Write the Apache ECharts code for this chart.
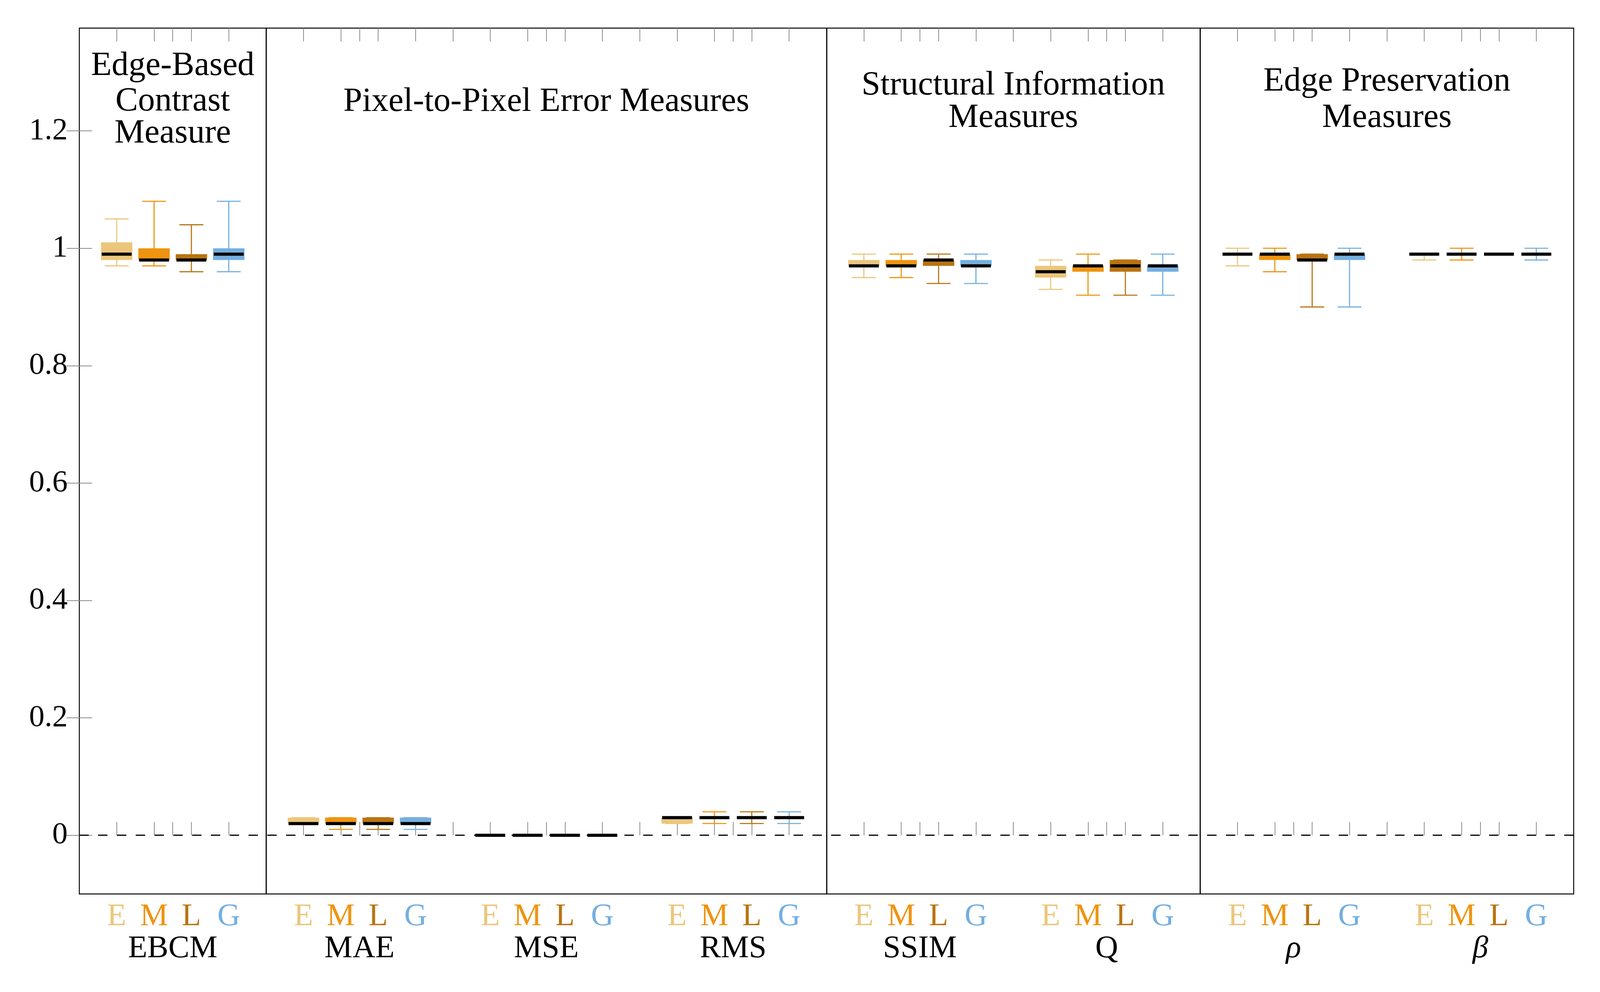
<!DOCTYPE html>
<html>
<head>
<meta charset="utf-8">
<script src="https://cdn.jsdelivr.net/npm/echarts@6/dist/echarts.min.js"></script>
<style>
html,body{margin:0;padding:0;background:#fff;overflow:hidden;}
#chart{width:100vw;height:100vh;}
</style>
</head>
<body>
<div id="chart"></div>
<script>
// ---------------- data ----------------
const categories = ['EBCM', 'MAE', 'MSE', 'RMS', 'SSIM', 'Q', 'ρ', 'β'];
const methods = ['E', 'M', 'L', 'G'];
const panelTitles = [
  ['Edge-Based', 'Contrast', 'Measure'],
  ['Pixel-to-Pixel Error Measures'],
  ['Structural Information', 'Measures'],
  ['Edge Preservation', 'Measures']
];
const panelBounds = [0, 5, 20, 30, 40]; // panel edges in group-slot units
const yTickValues = [0, 0.2, 0.4, 0.6, 0.8, 1, 1.2];

// each row: [min, q1, median, q3, max] per category
const E = [
  [0.97, 0.98, 0.99, 1.01, 1.05],
  [0.02, 0.02, 0.02, 0.03, 0.03],
  [0, 0, 0, 0, 0],
  [0.02, 0.02, 0.03, 0.03, 0.03],
  [0.95, 0.97, 0.97, 0.98, 0.99],
  [0.93, 0.95, 0.96, 0.97, 0.98],
  [0.97, 0.99, 0.99, 0.99, 1.00],
  [0.98, 0.99, 0.99, 0.99, 0.99]
];
const M = [
  [0.97, 0.98, 0.98, 1.00, 1.08],
  [0.01, 0.02, 0.02, 0.03, 0.03],
  [0, 0, 0, 0, 0],
  [0.02, 0.03, 0.03, 0.03, 0.04],
  [0.95, 0.97, 0.97, 0.98, 0.99],
  [0.92, 0.96, 0.97, 0.97, 0.99],
  [0.96, 0.98, 0.99, 0.99, 1.00],
  [0.98, 0.99, 0.99, 0.99, 1.00]
];
const L = [
  [0.96, 0.98, 0.98, 0.99, 1.04],
  [0.01, 0.02, 0.02, 0.03, 0.03],
  [0, 0, 0, 0, 0],
  [0.02, 0.03, 0.03, 0.03, 0.04],
  [0.94, 0.97, 0.98, 0.98, 0.99],
  [0.92, 0.96, 0.97, 0.98, 0.98],
  [0.90, 0.98, 0.98, 0.99, 0.99],
  [0.99, 0.99, 0.99, 0.99, 0.99]
];
const G = [
  [0.96, 0.98, 0.99, 1.00, 1.08],
  [0.01, 0.02, 0.02, 0.03, 0.03],
  [0, 0, 0, 0, 0],
  [0.02, 0.03, 0.03, 0.03, 0.04],
  [0.94, 0.97, 0.97, 0.98, 0.99],
  [0.92, 0.96, 0.97, 0.97, 0.99],
  [0.90, 0.98, 0.99, 0.99, 1.00],
  [0.98, 0.99, 0.99, 0.99, 1.00]
];
const seriesData = [E, M, L, G];

// ---------------- styles ----------------
const methodColors = ['#EBC67C', '#EF9410', '#B97412', '#74AFE0'];
const SERIF = '"Liberation Serif", "DejaVu Serif", serif';
const tickGray = '#8a8a8a';

const el = document.getElementById('chart');
const sx = (el.clientWidth || 4256) / 4256;  // horizontal design-px scale
const sy = (el.clientHeight || 2540) / 2540; // vertical design-px scale
const SX = v => v * sx;
const SY = v => v * sy;
const FS = SX(84);
const TFS = SX(90);

// slot positions: group g, method k -> 5g + k + 1 ; group centre -> 5g + 2.5
const boxPositions = [];
const groupCenters = [];
categories.forEach((c, g) => {
  methods.forEach((m, k) => boxPositions.push(5 * g + k + 1));
  groupCenters.push(5 * g + 2.5);
});
const tickPositions = [];
for (let i = 1; i < 40; i++) tickPositions.push(i);
groupCenters.forEach(v => tickPositions.push(v));
tickPositions.sort((a, b) => a - b);

function renderBox(params, api) {
  const x = api.value(0);
  const mn = api.value(1), q1 = api.value(2), md = api.value(3), q3 = api.value(4), mx = api.value(5);
  const color = api.visual('color');
  const cx = api.coord([x, md])[0];
  const yMin = api.coord([x, mn])[1];
  const yQ1 = api.coord([x, q1])[1];
  const yMd = api.coord([x, md])[1];
  const yQ3 = api.coord([x, q3])[1];
  const yMax = api.coord([x, mx])[1];
  const boxW = api.size([0.84, 0])[0];
  const capW = api.size([0.64, 0])[0];
  const medW = api.size([0.80, 0])[0];
  const ls = { stroke: color, lineWidth: SX(3) };
  const mh = SY(8);
  return {
    type: 'group',
    children: [
      { type: 'line', shape: { x1: cx, y1: yQ1, x2: cx, y2: yMin }, style: ls },
      { type: 'line', shape: { x1: cx, y1: yQ3, x2: cx, y2: yMax }, style: ls },
      { type: 'line', shape: { x1: cx - capW / 2, y1: yMin, x2: cx + capW / 2, y2: yMin }, style: ls },
      { type: 'line', shape: { x1: cx - capW / 2, y1: yMax, x2: cx + capW / 2, y2: yMax }, style: ls },
      { type: 'rect', shape: { x: cx - boxW / 2, y: yQ3, width: boxW, height: Math.max(0, yQ1 - yQ3) }, style: { fill: color } },
      { type: 'rect', shape: { x: cx - medW / 2, y: yMd - mh / 2, width: medW, height: mh }, style: { fill: '#000' } }
    ]
  };
}

const chart = echarts.init(el, null, { renderer: 'canvas' });

const series = methods.map((m, k) => ({
  name: m,
  type: 'custom',
  xAxisIndex: 0,
  yAxisIndex: 0,
  itemStyle: { color: methodColors[k] },
  renderItem: renderBox,
  encode: { x: 0, y: [1, 2, 3, 4, 5] },
  data: seriesData[k].map((row, g) => [5 * g + k + 1].concat(row)),
  z: 5,
  silent: true
}));

// decoration lines (zero line and panel separators)
series.push({
  type: 'line',
  data: [],
  xAxisIndex: 0,
  yAxisIndex: 0,
  silent: true,
  z: 3,
  markLine: {
    silent: true,
    symbol: 'none',
    label: { show: false },
    animation: false,
    data: [
      { yAxis: 0, lineStyle: { color: '#000', width: SY(3), type: [SX(25), SX(25)] } }
    ].concat(panelBounds.slice(1, -1).map(b => ({ xAxis: b, lineStyle: { color: '#000', width: SX(3), type: 'solid' } })))
  }
});

const labelRich = {};
methods.forEach((m, k) => {
  labelRich['m' + k] = { color: methodColors[k], fontFamily: SERIF, fontSize: FS, lineHeight: SY(84) };
});

const tickStyleV = { color: tickGray, width: SX(2) };
const tickStyleH = { color: tickGray, width: SY(2) };

chart.setOption({
  animation: false,
  backgroundColor: '#fff',
  grid: {
    left: SX(211), right: SX(70), top: SY(72), bottom: SY(251),
    show: true, borderColor: '#000', borderWidth: SX(2.5), backgroundColor: 'transparent',
    outerBoundsMode: 'none'
  },
  xAxis: [
    {
      type: 'value', min: 0, max: 40, position: 'bottom',
      axisLine: { show: false }, splitLine: { show: false },
      axisTick: { show: true, inside: true, length: SY(34), lineStyle: tickStyleV, customValues: tickPositions },
      axisLabel: {
        show: true, margin: SY(17), customValues: boxPositions,
        formatter: v => { const k = Math.round(v - 1) % 5; return '{m' + k + '|' + methods[k] + '}'; },
        rich: labelRich
      }
    },
    {
      type: 'value', min: 0, max: 40, position: 'bottom',
      axisLine: { show: false }, splitLine: { show: false }, axisTick: { show: false },
      axisLabel: {
        show: true, margin: SY(99), customValues: groupCenters,
        formatter: v => {
          const name = categories[Math.round((v - 2.5) / 5)];
          return /[α-ω]/.test(name) ? '{it|' + name + '}' : '{n|' + name + '}';
        },
        rich: {
          n: { color: '#000', fontFamily: SERIF, fontSize: FS, lineHeight: SY(84) },
          it: { color: '#000', fontFamily: SERIF, fontSize: FS, lineHeight: SY(84), fontStyle: 'italic' }
        }
      }
    },
    {
      type: 'value', min: 0, max: 40, position: 'top',
      axisLine: { show: false }, splitLine: { show: false }, axisLabel: { show: false },
      axisTick: { show: true, inside: true, length: SY(34), lineStyle: tickStyleV, customValues: tickPositions }
    }
  ],
  yAxis: [
    {
      type: 'value', min: -0.1, max: 1.375, position: 'left',
      axisLine: { show: false }, splitLine: { show: false },
      axisTick: { show: true, inside: true, length: SX(34), lineStyle: tickStyleH, customValues: yTickValues },
      axisLabel: {
        show: true, margin: SX(31), customValues: yTickValues,
        formatter: v => String(+(+v).toFixed(1)),
        color: '#000', fontFamily: SERIF, fontSize: SX(82)
      }
    },
    {
      type: 'value', min: -0.1, max: 1.375, position: 'right',
      axisLine: { show: false }, splitLine: { show: false }, axisLabel: { show: false },
      axisTick: { show: true, inside: true, length: SX(34), lineStyle: tickStyleH, customValues: yTickValues }
    }
  ],
  series: series
});

// panel titles, centred on each panel
const titleCenters = [[169, 260, 342], [261], [219, 302], [209, 302]];
const graphics = [];
panelTitles.forEach((lines, p) => {
  const cxVal = (panelBounds[p] + panelBounds[p + 1]) / 2;
  const px = chart.convertToPixel({ xAxisIndex: 0 }, cxVal);
  lines.forEach((t, i) => {
    graphics.push({
      type: 'text', x: px, y: SY(titleCenters[p][i]), silent: true,
      style: { text: t, fill: '#000', font: TFS + 'px ' + SERIF, align: 'center', verticalAlign: 'middle' },
      z: 10
    });
  });
});
chart.setOption({ graphic: graphics });
</script>
</body>
</html>
